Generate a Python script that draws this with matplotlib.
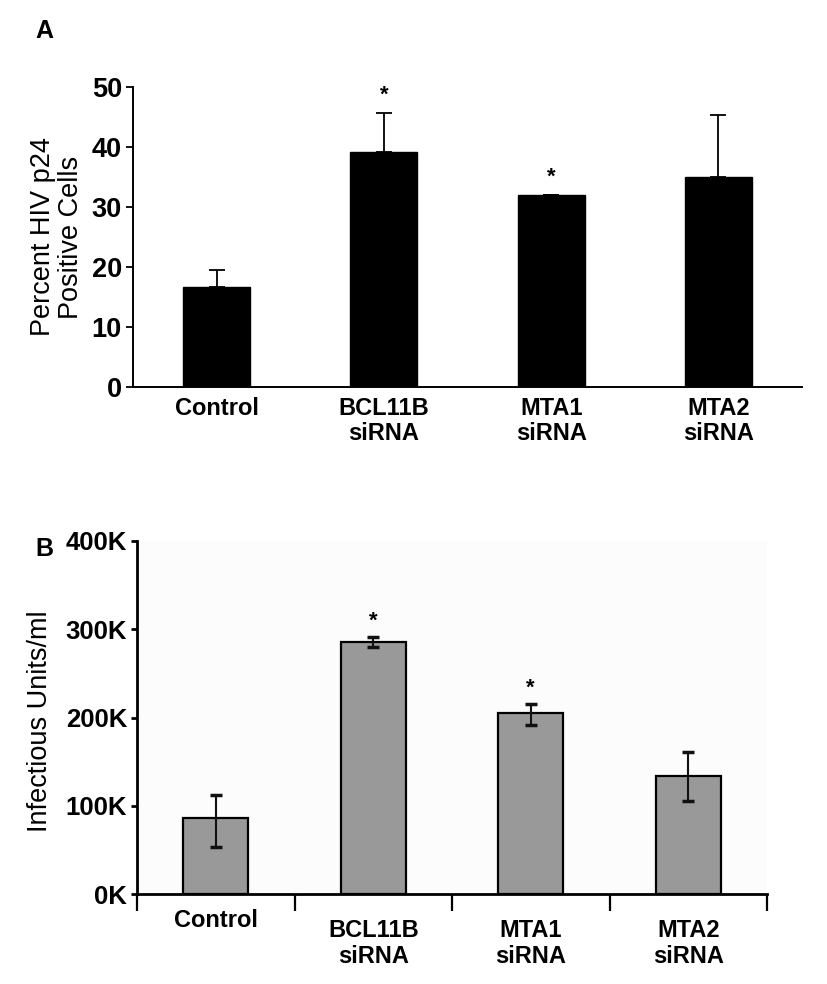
import matplotlib
matplotlib.use('Agg')
import matplotlib.pyplot as plt
import matplotlib.transforms as mtransforms
import numpy as np

plt.rcParams['font.family'] = ['Liberation Sans', 'DejaVu Sans']

categories = ['Control', 'BCL11B\nsiRNA', 'MTA1\nsiRNA', 'MTA2\nsiRNA']

# Panel A
p24_percent = [16.7, 39.2, 32.0, 35.0]
p24_err = [2.8, 6.5, 0.0, 10.4]
p24_sig = [False, True, True, False]
yticks_a = [0, 10, 20, 30, 40, 50]

# Panel B (thousands)
titer_k = [86, 285, 205, 134]
titer_err_low = [33, 5, 14, 29]
titer_err_high = [26, 6, 10, 27]
titer_sig = [False, True, True, False]
yticks_b = [0, 100, 200, 300, 400]
ytick_labels_b = ['0K', '100K', '200K', '300K', '400K']

fig = plt.figure(figsize=(8.28, 9.84), dpi=100)
W, H = 828, 984

def ax_rect(x0, x1, ytop, ybot):
    return [x0 / W, 1 - ybot / H, (x1 - x0) / W, (ybot - ytop) / H]

LBL = 19.5

# ---------------- Panel A ----------------
axA = fig.add_axes(ax_rect(133, 802, 87, 387))
x = np.arange(len(categories))
axA.bar(x, p24_percent, width=0.4, color='black', edgecolor='black', zorder=2)
axA.errorbar(x, p24_percent, yerr=[np.zeros(len(x)), p24_err], fmt='none',
             ecolor='black', elinewidth=1.3, capsize=5.5, capthick=1.3, zorder=1)
for xi, v, e, s in zip(x, p24_percent, p24_err, p24_sig):
    if s:
        axA.text(xi, v + e + 2.9, '*', ha='center', va='center', fontsize=16,
                 fontweight='bold')
axA.set_xlim(-0.5, 3.5)
axA.set_ylim(0, 50)
axA.set_yticks(yticks_a)
axA.set_yticklabels([str(t) for t in yticks_a], fontsize=19.5, fontweight='bold')
axA.set_xticks(x)
axA.set_xticklabels(categories, fontsize=17, fontweight='bold', linespacing=1.15)
axA.tick_params(axis='x', length=0, pad=7)
axA.tick_params(axis='y', length=5, width=1.3, pad=3)
for sp in ['top', 'right']:
    axA.spines[sp].set_visible(False)
for sp in ['left', 'bottom']:
    axA.spines[sp].set_linewidth(1.4)
axA.set_ylabel('Percent HIV p24\nPositive Cells', fontsize=LBL, linespacing=1.1)
axA.yaxis.set_label_coords(-0.073, 0.5)
fig.text(35 / W, 1 - 31 / H, 'A', fontsize=18, fontweight='bold', va='center')

# ---------------- Panel B ----------------
axB = fig.add_axes(ax_rect(137, 767, 541, 894))
axB.set_facecolor('#fcfcfc')
axB.bar(x, titer_k, width=0.41, color='#999999', edgecolor='black', linewidth=1.6,
        zorder=2)
axB.errorbar(x, titer_k, yerr=[titer_err_low, titer_err_high], fmt='none',
             ecolor='#111111', elinewidth=1.5, capsize=4.5, capthick=2.5, zorder=3)
for xi, v, e, s in zip(x, titer_k, titer_err_high, titer_sig):
    if s:
        axB.text(xi, v + e + 18, '*', ha='center', va='center', fontsize=16,
                 fontweight='bold')
axB.set_xlim(-0.5, 3.5)
axB.set_ylim(0, 400)
axB.set_yticks(yticks_b)
axB.set_yticklabels(ytick_labels_b, fontsize=18.5, fontweight='bold')
axB.set_xticks(np.arange(-0.5, 4, 1.0))
axB.set_xticklabels([])
axB.set_xticks(x, minor=True)
labelsB = axB.set_xticklabels(categories, minor=True, fontsize=17, fontweight='bold',
                              linespacing=1.15)
axB.tick_params(axis='x', which='major', length=12, width=1.6, direction='out')
axB.tick_params(axis='x', which='minor', length=0, pad=18)
axB.tick_params(axis='y', length=4, width=2, pad=3)
# single-line label sits a little higher in the reference
for lab in labelsB:
    if '\n' not in lab.get_text():
        lab.set_transform(lab.get_transform() +
                          mtransforms.ScaledTranslation(0, 10 / 100, fig.dpi_scale_trans))
for sp in ['top', 'right']:
    axB.spines[sp].set_visible(False)
for sp in ['left', 'bottom']:
    axB.spines[sp].set_linewidth(2)
axB.set_ylabel('Infectious Units/ml', fontsize=LBL)
axB.yaxis.set_label_coords(-0.134, 0.49)
fig.text(35 / W, 1 - 549 / H, 'B', fontsize=18, fontweight='bold', va='center')

fig.savefig('out.png', dpi=100, facecolor='white')
